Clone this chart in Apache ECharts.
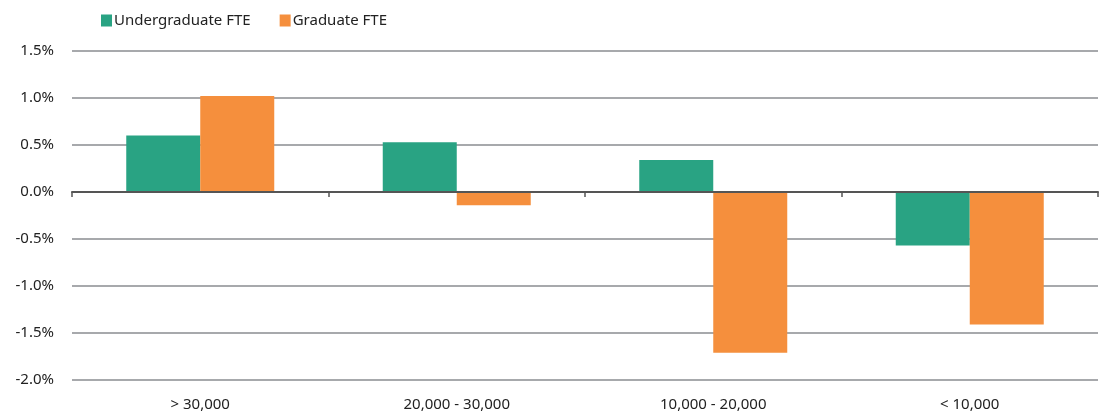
<!DOCTYPE html>
<html><head><meta charset="utf-8">
<script src="https://cdn.jsdelivr.net/npm/echarts@6/dist/echarts.min.js"></script>
<style>html,body{margin:0;padding:0;background:#fff}#c{width:1101px;height:416px}</style>
</head><body><div id="c"></div>
<script>
const categories = ['> 30,000', '20,000 - 30,000', '10,000 - 20,000', '< 10,000'];
const undergraduate = [0.60, 0.53, 0.34, -0.57];
const graduate = [1.02, -0.14, -1.71, -1.41];
const seriesNames = ['Undergraduate FTE', 'Graduate FTE'];
const FONT = 'Noto Sans';
const chart = echarts.init(document.getElementById('c'), null, {renderer: 'canvas'});
chart.setOption({
  animation: false,
  textStyle: {fontFamily: FONT},
  legend: {
    left: 96, top: 8, itemWidth: 11, itemHeight: 12, itemGap: 29,
    icon: 'rect',
    textStyle: {fontFamily: FONT, fontSize: 15, color: '#222', padding: [0, 0, 0, -3]},
    data: seriesNames
  },
  grid: {left: 72, right: 3, top: 51, bottom: 36, containLabel: false},
  xAxis: [{
    type: 'category', data: categories, position: 'bottom',
    axisLine: {show: false, onZero: false}, axisTick: {show: false},
    axisLabel: {fontFamily: FONT, fontSize: 15, color: '#222', margin: 17}
  }, {
    type: 'category', data: categories, position: 'bottom', z: 5,
    axisLine: {show: true, onZero: true, lineStyle: {color: '#555', width: 2}},
    axisTick: {show: true, length: 5, lineStyle: {color: '#555', width: 1.5}},
    axisLabel: {show: false}
  }],
  yAxis: {
    type: 'value', min: -2, max: 1.5, interval: 0.5,
    axisLine: {show: false}, axisTick: {show: false},
    axisLabel: {fontFamily: FONT, fontSize: 15, color: '#222', margin: 18,
      formatter: v => v.toFixed(1) + '%'},
    splitLine: {lineStyle: {color: '#a7a9ac', width: 2}}
  },
  series: [{
    name: seriesNames[0], type: 'bar', data: undergraduate, barWidth: 74, barGap: '0%',
    itemStyle: {color: '#29a383'}
  }, {
    name: seriesNames[1], type: 'bar', data: graduate, barWidth: 74, barGap: '0%',
    itemStyle: {color: '#f58f3d'}
  }]
});
</script></body></html>
